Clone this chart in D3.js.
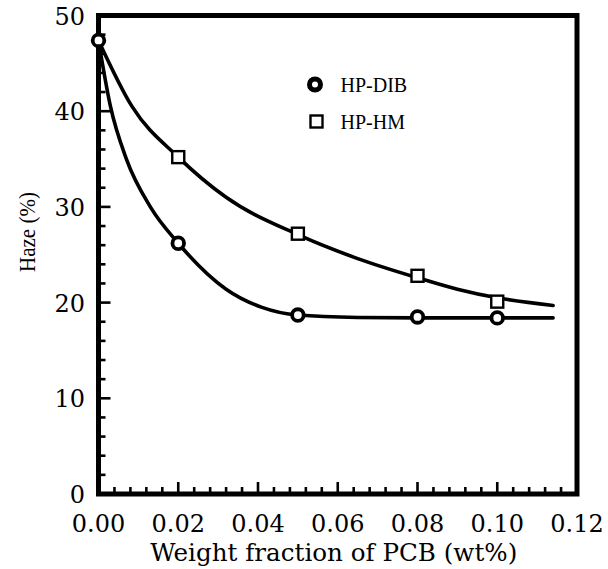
<!DOCTYPE html>
<html>
<head>
<meta charset="utf-8">
<script src="https://cdn.jsdelivr.net/npm/d3@7"></script>
<style>
  body { margin: 0; background: #fff; }
  svg { display: block; }
</style>
</head>
<body>
<svg id="chart" width="608" height="569"></svg>
<script>
// measured points
const dibX = [0, 0.02, 0.05, 0.08, 0.10];
const dibY = [47.4, 26.2, 18.7, 18.5, 18.4];
const hmX = [0.02, 0.05, 0.08, 0.10];
const hmY = [35.2, 27.2, 22.8, 20.1];

// fitted curves
const dibFitX = [0, 0.003, 0.007, 0.013, 0.02, 0.032, 0.041, 0.05, 0.065, 0.08, 0.10, 0.114];
const dibFitY = [47.4, 40.5, 35, 30, 26.2, 21.4, 19.5, 18.7, 18.45, 18.4, 18.4, 18.4];
const hmFitX = [0, 0.0084, 0.02, 0.032, 0.05, 0.065, 0.08, 0.09, 0.10, 0.114];
const hmFitY = [47.4, 40.5, 35.2, 31.0, 27.1, 24.6, 22.6, 21.4, 20.5, 19.7];

const xTicks = [0, 0.02, 0.04, 0.06, 0.08, 0.10, 0.12];
const yTicks = [0, 10, 20, 30, 40, 50];

const legendNames = ["HP-DIB", "HP-HM"];

const LEFT = 98.5, RIGHT = 577, TOP = 15.5, BOTTOM = 494;
const AXIS_W = 5;
const LINE_W = 3.6;

const svg = d3.select("#chart");

const x = d3.scaleLinear().domain([0, 0.12]).range([LEFT, RIGHT]);
const y = d3.scaleLinear().domain([0, 50]).range([BOTTOM, TOP]);

// fitted curves
const line = d3.line()
  .x((d) => x(d[0]))
  .y((d) => y(d[1]))
  .curve(d3.curveMonotoneX);

const curves = svg.append("g")
  .attr("fill", "none")
  .attr("stroke", "#000")
  .attr("stroke-width", LINE_W)
  .attr("stroke-linecap", "round");

curves.append("path").attr("d", line(dibFitX.map((v, i) => [v, dibFitY[i]])));
curves.append("path").attr("d", line(hmFitX.map((v, i) => [v, hmFitY[i]])));

// minor + major ticks, drawn inward
const ticks = svg.append("g").attr("stroke", "#000").attr("stroke-width", 2.6);

ticks.selectAll(".xt")
  .data(d3.range(0, 31).map((i) => i * 0.004))
  .join("line")
  .attr("x1", (d) => x(d))
  .attr("x2", (d) => x(d))
  .attr("y1", BOTTOM)
  .attr("y2", (d, i) => BOTTOM - (i % 5 === 0 ? 12 : 7));

ticks.selectAll(".yt")
  .data(d3.range(0, 26).map((i) => i * 2))
  .join("line")
  .attr("y1", (d) => y(d))
  .attr("y2", (d) => y(d))
  .attr("x1", LEFT)
  .attr("x2", (d, i) => LEFT + (i % 5 === 0 ? 12 : 7));

// frame
svg.append("rect")
  .attr("x", LEFT)
  .attr("y", TOP)
  .attr("width", RIGHT - LEFT)
  .attr("height", BOTTOM - TOP)
  .attr("fill", "none")
  .attr("stroke", "#000")
  .attr("stroke-width", AXIS_W);

// tick labels
const labelFont = "'DejaVu Serif', serif";

svg.append("g")
  .selectAll("text")
  .data(xTicks)
  .join("text")
  .attr("x", (d) => x(d))
  .attr("y", 524)
  .attr("text-anchor", "middle")
  .attr("dominant-baseline", "central")
  .attr("font-family", labelFont)
  .attr("font-size", 24)
  .text((d) => d3.format(".2f")(d));

svg.append("g")
  .selectAll("text")
  .data(yTicks)
  .join("text")
  .attr("x", 85)
  .attr("y", (d) => y(d) + 1)
  .attr("text-anchor", "end")
  .attr("dominant-baseline", "central")
  .attr("font-family", labelFont)
  .attr("font-size", 24)
  .text((d) => d);

// axis titles
svg.append("text")
  .attr("x", (LEFT + RIGHT) / 2 - 4)
  .attr("y", 561)
  .attr("text-anchor", "middle")
  .attr("font-family", labelFont)
  .attr("font-size", 24.6)
  .text("Weight fraction of PCB (wt%)");

svg.append("text")
  .attr("transform", "translate(35,232) rotate(-90)")
  .attr("text-anchor", "middle")
  .attr("font-family", "'Liberation Serif', serif")
  .attr("font-size", 24)
  .attr("textLength", 80)
  .attr("lengthAdjust", "spacingAndGlyphs")
  .text("Haze (%)");

// markers
svg.append("g")
  .selectAll("rect")
  .data(hmX.map((v, i) => [v, hmY[i]]))
  .join("rect")
  .attr("x", (d) => x(d[0]) - 6)
  .attr("y", (d) => y(d[1]) - 6)
  .attr("width", 12)
  .attr("height", 12)
  .attr("fill", "#fff")
  .attr("stroke", "#000")
  .attr("stroke-width", 2.4);

svg.append("g")
  .selectAll("circle")
  .data(dibX.map((v, i) => [v, dibY[i]]))
  .join("circle")
  .attr("cx", (d) => x(d[0]))
  .attr("cy", (d) => y(d[1]))
  .attr("r", 5.8)
  .attr("fill", "#fff")
  .attr("stroke", "#000")
  .attr("stroke-width", 3.8);

// legend
const legend = svg.append("g").attr("font-family", "'Liberation Serif', serif").attr("font-size", 20);

legend.append("circle")
  .attr("cx", 315)
  .attr("cy", 84.5)
  .attr("r", 5.5)
  .attr("fill", "#fff")
  .attr("stroke", "#000")
  .attr("stroke-width", 5);

legend.append("rect")
  .attr("x", 310.5)
  .attr("y", 115.5)
  .attr("width", 12)
  .attr("height", 12)
  .attr("fill", "#fff")
  .attr("stroke", "#000")
  .attr("stroke-width", 2.4);

legend.selectAll("text")
  .data(legendNames)
  .join("text")
  .attr("x", 340.5)
  .attr("y", (d, i) => 84.5 + i * 37.5)
  .attr("dominant-baseline", "central")
  .text((d) => d);
</script>
</body>
</html>
